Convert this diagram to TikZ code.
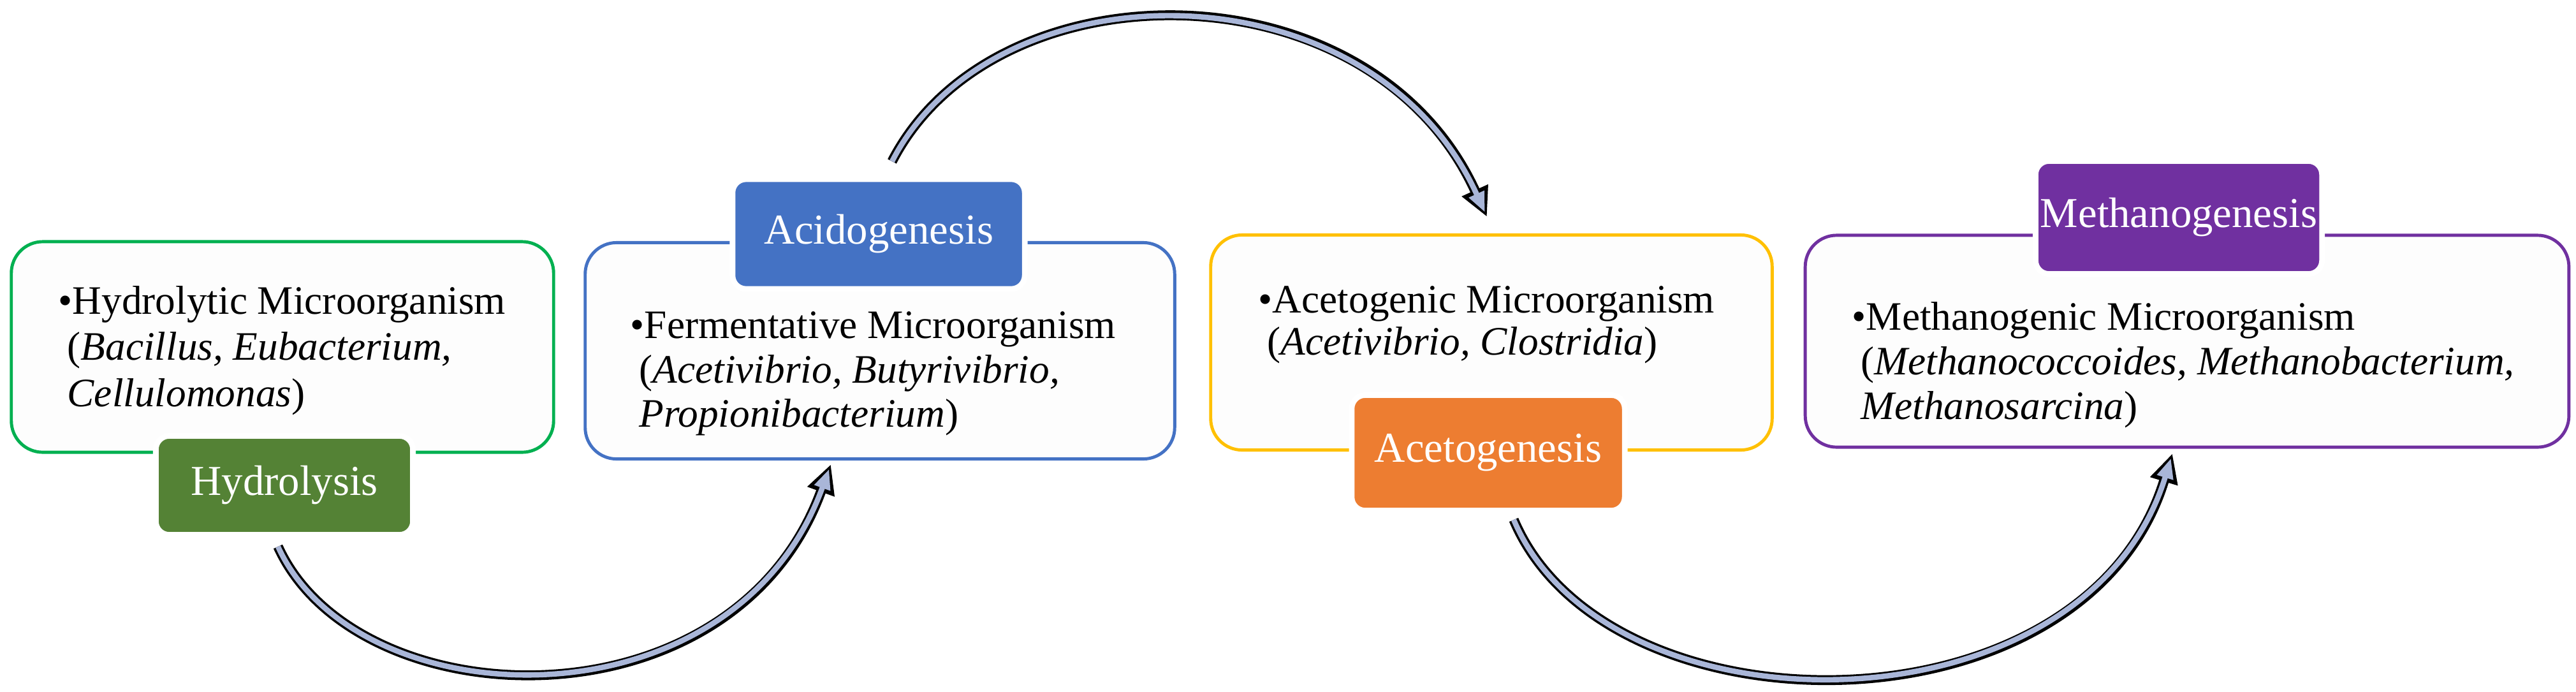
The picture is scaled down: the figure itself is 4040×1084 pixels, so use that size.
\documentclass[tikz,border=0pt]{standalone}
\usepackage{fontspec}
\setmainfont{Liberation Serif}
\usetikzlibrary{arrows.meta}
\definecolor{cg}{HTML}{00B050}\definecolor{ch}{HTML}{548235}
\definecolor{cb}{HTML}{4472C4}\definecolor{cy}{HTML}{FFC000}
\definecolor{co}{HTML}{ED7D31}\definecolor{cp}{HTML}{7030A0}
\definecolor{af}{HTML}{A9B6D8}\definecolor{bf}{HTML}{FDFDFD}
\begin{document}
\begin{tikzpicture}[x=0.01cm,y=-0.01cm,
 box/.style={draw=#1,line width=1.4pt,rounded corners=14pt,fill=bf,inner sep=0pt},
 lab/.style={fill=#1,draw=white,line width=2.5pt,rounded corners=6pt,text=white,inner sep=0pt,font=\fontsize{19}{22}\selectfont},
 txt/.style={anchor=base west,inner sep=0pt,font=\fontsize{18}{22}\selectfont},
 arrb/.style={line width=4.4pt,black,-{Triangle[length=13pt,width=12pt]}},
 arrf/.style={line width=2.4pt,af,shorten >=2.2pt,-{Triangle[length=9pt,width=7pt]}}]
\useasboundingbox (0,0) rectangle (4040,1084);
\node[box=cg,minimum width=8.5cm,minimum height=3.3cm] (g) at (443,544) {};
\node[box=cb,minimum width=9.24cm,minimum height=3.39cm] (b) at (1380,550) {};
\node[box=cy,minimum width=8.8cm,minimum height=3.37cm] (y) at (2339,537) {};
\node[box=cp,minimum width=11.97cm,minimum height=3.32cm] (p) at (3430,535) {};
\node[lab=ch,minimum width=4.03cm,minimum height=1.55cm] (hl) at (446,761) {Hydrolysis};
\node[lab=cb,minimum width=4.58cm,minimum height=1.72cm] (al) at (1378,367) {Acidogenesis};
\node[lab=co,minimum width=4.28cm,minimum height=1.81cm] (tl) at (2334,710) {Acetogenesis};
\node[lab=cp,minimum width=4.49cm,minimum height=1.77cm] (ml) at (3417,341) {Methanogenesis};
\node[txt] (g1) at (91,492) {\textbullet Hydrolytic Microorganism};
\node[txt] (g2) at (105,564) {(\textit{Bacillus, Eubacterium,}};
\node[txt] (g3) at (105,637) {\textit{Cellulomonas})};
\node[txt] (b1) at (988,530) {\textbullet Fermentative Microorganism};
\node[txt] (b2) at (1002,600) {(\textit{Acetivibrio, Butyrivibrio,}};
\node[txt] (b3) at (1002,669) {\textit{Propionibacterium})};
\node[txt] (y1) at (1973,490) {\textbullet Acetogenic Microorganism};
\node[txt] (y2) at (1987,556) {(\textit{Acetivibrio, Clostridia})};
\node[txt] (p1) at (2904,517) {\textbullet Methanogenic Microorganism};
\node[txt] (p2) at (2918,587) {(\textit{Methanococcoides, Methanobacterium,}};
\node[txt] (p3) at (2918,657) {\textit{Methanosarcina})};
\coordinate (s1) at (436,857); \coordinate (e1) at (1303,728);
\coordinate (s2) at (1399,253); \coordinate (e2) at (2332,340);
\coordinate (s3) at (2374,815); \coordinate (e3) at (3407,711);
\foreach \s/\e/\ca/\cb in {s1/e1/{560,1130}/{1150,1150},s2/e2/{1560,-60}/{2150,-60},s3/e3/{2520,1160}/{3270,1160}}{
 \draw[arrb] (\s) .. controls (\ca) and (\cb) .. (\e);
 \draw[arrf] (\s) .. controls (\ca) and (\cb) .. (\e);
}
\end{tikzpicture}
\end{document}
